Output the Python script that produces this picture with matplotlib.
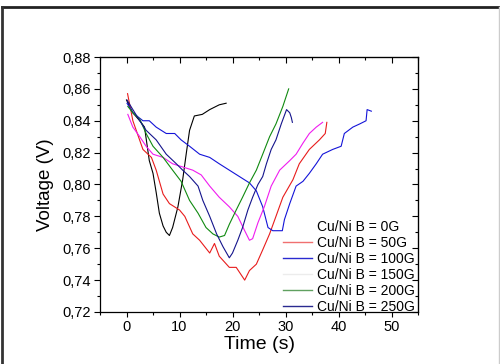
import matplotlib
matplotlib.use("Agg")
import matplotlib.pyplot as plt
from matplotlib.ticker import MultipleLocator, FuncFormatter
from matplotlib.lines import Line2D

plt.rcParams['font.family'] = ['Liberation Sans', 'DejaVu Sans']

# (time in s, voltage in V)
t_0g = [0.0, 1.2, 2.5, 3.4, 4.3, 5.0, 5.6, 6.2, 6.9, 7.5, 8.1, 8.7, 9.7, 10.6, 11.3, 11.9, 12.8, 14.3, 15.7, 17.5, 18.8]
v_0g = [0.853, 0.845, 0.840, 0.836, 0.815, 0.807, 0.795, 0.782, 0.774, 0.770, 0.768, 0.773, 0.786, 0.803, 0.820, 0.834,
        0.843, 0.844, 0.847, 0.850, 0.851]

t_50g = [0.2, 1.2, 3.1, 4.7, 5.6, 6.9, 8.1, 10.0, 11.0, 12.5, 13.8, 15.7, 16.6, 17.5, 19.4, 20.7, 22.3, 23.2, 24.5, 25.7,
         27.0, 28.2, 29.5, 31.4, 32.6, 34.5, 36.4, 37.5, 37.8]
v_50g = [0.857, 0.840, 0.822, 0.817, 0.809, 0.794, 0.788, 0.784, 0.780, 0.769, 0.765, 0.757, 0.763, 0.755, 0.748, 0.748,
         0.740, 0.746, 0.750, 0.759, 0.769, 0.780, 0.792, 0.803, 0.813, 0.822, 0.828, 0.832, 0.839]

t_100g = [0.1, 1.2, 3.1, 4.3, 5.6, 7.5, 9.1, 10.3, 11.9, 13.8, 15.7, 17.5, 19.4, 21.3, 23.2, 24.5, 25.7, 26.7, 27.6, 29.4,
          29.8, 30.8, 32.0, 33.3, 34.5, 35.8, 37.0, 38.9, 40.5, 41.1, 42.7, 44.0, 45.2, 45.4, 46.2]
v_100g = [0.851, 0.845, 0.840, 0.840, 0.836, 0.832, 0.832, 0.828, 0.824, 0.819, 0.817, 0.813, 0.809, 0.805, 0.801, 0.796,
          0.786, 0.773, 0.771, 0.771, 0.778, 0.788, 0.799, 0.802, 0.807, 0.813, 0.819, 0.822, 0.824, 0.832, 0.836, 0.838,
          0.840, 0.847, 0.846]

t_150g = [0.25, 1.2, 2.5, 3.7, 5.0, 6.9, 8.7, 10.6, 12.5, 14.1, 15.7, 17.5, 19.4, 21.0, 22.3, 23.2, 23.8, 24.8, 26.0, 27.3,
          28.9, 30.8, 32.0, 33.3, 34.5, 35.8, 37.0]
v_150g = [0.844, 0.836, 0.830, 0.824, 0.819, 0.817, 0.813, 0.811, 0.809, 0.806, 0.799, 0.792, 0.786, 0.780, 0.771, 0.765,
          0.766, 0.776, 0.786, 0.799, 0.809, 0.815, 0.819, 0.826, 0.832, 0.836, 0.839]

t_200g = [0.25, 1.2, 2.5, 3.7, 5.0, 6.9, 8.7, 10.3, 11.9, 13.5, 15.0, 16.3, 17.5, 18.5, 19.4, 20.7, 21.9, 23.2, 24.5, 25.7,
          27.0, 28.2, 29.5, 30.3, 30.6]
v_200g = [0.849, 0.845, 0.841, 0.832, 0.824, 0.817, 0.809, 0.802, 0.790, 0.782, 0.773, 0.769, 0.767, 0.768, 0.775, 0.784,
          0.792, 0.801, 0.809, 0.819, 0.830, 0.838, 0.849, 0.857, 0.860]

t_250g = [0.1, 1.2, 2.5, 3.7, 5.6, 7.5, 9.4, 10.6, 11.9, 13.5, 14.4, 15.7, 17.0, 18.2, 19.4, 20.0, 21.0, 21.9, 22.9, 23.8,
          24.8, 25.7, 26.4, 27.3, 28.2, 29.2, 30.2, 30.8, 31.1, 31.3]
v_250g = [0.853, 0.847, 0.840, 0.834, 0.828, 0.819, 0.813, 0.809, 0.805, 0.799, 0.790, 0.780, 0.769, 0.761, 0.754, 0.757,
          0.765, 0.773, 0.784, 0.792, 0.800, 0.805, 0.813, 0.822, 0.828, 0.838, 0.847, 0.845, 0.842, 0.839]

labels = ['Cu/Ni B = 0G', 'Cu/Ni B = 50G', 'Cu/Ni B = 100G', 'Cu/Ni B = 150G', 'Cu/Ni B = 200G', 'Cu/Ni B = 250G']
series = [(t_0g, v_0g), (t_50g, v_50g), (t_100g, v_100g), (t_150g, v_150g), (t_200g, v_200g), (t_250g, v_250g)]
colors = ['black', '#e81c1c', '#1414d8', '#f01cf0', '#108a10', '#14148c']
# the legend swatches in the original do not match the curves
legend_colors = ['none', '#f07070', '#2a2ad0', '#ececec', '#60a060', '#2a2a90']

fig = plt.figure(figsize=(5, 3.64), dpi=100)
ax = fig.add_axes([0.2, 0.1429, 0.636, 0.7005])

for (t, v), c, lab in zip(series, colors, labels):
    ax.plot(t, v, color=c, lw=0.8, label=lab)

ax.set_xlim(-5, 55)
ax.set_ylim(0.72, 0.88)
ax.xaxis.set_major_locator(MultipleLocator(10))
ax.xaxis.set_minor_locator(MultipleLocator(5))
ax.yaxis.set_major_locator(MultipleLocator(0.02))
ax.yaxis.set_minor_locator(MultipleLocator(0.01))
ax.yaxis.set_major_formatter(FuncFormatter(lambda y, p: f"{y:.2f}".replace('.', ',')))
ax.tick_params(which='both', direction='out', top=False, right=False, labelsize=10.5, width=0.8, pad=2)
ax.tick_params(axis='y', which='major', length=4.5)
ax.tick_params(axis='x', which='major', length=3.5)
ax.tick_params(which='minor', length=2)
for s in ax.spines.values():
    s.set_linewidth(0.9)

# top and right ticks point inwards, without labels
top = ax.secondary_xaxis('top')
top.xaxis.set_major_locator(MultipleLocator(10))
top.xaxis.set_minor_locator(MultipleLocator(5))
top.tick_params(which='both', direction='in', labeltop=False, width=0.8)
top.tick_params(which='major', length=4)
top.tick_params(which='minor', length=2)
right = ax.secondary_yaxis('right')
right.yaxis.set_major_locator(MultipleLocator(0.02))
right.yaxis.set_minor_locator(MultipleLocator(0.01))
right.tick_params(which='both', direction='in', labelright=False, width=0.8)
right.tick_params(which='major', length=4)
right.tick_params(which='minor', length=2)

ax.set_xlabel('Time (s)', fontsize=14, labelpad=2)
ax.set_ylabel('Voltage (V)', fontsize=13.5, labelpad=6)

leg = ax.legend(loc='lower right', bbox_to_anchor=(1.008, -0.03), frameon=False, fontsize=10,
                handlelength=2.1, handletextpad=0.35, labelspacing=0.15, borderaxespad=0)
for h, c in zip(leg.legend_handles, legend_colors):
    h.set_color(c)
    h.set_linewidth(1.0)

# frame around the whole picture
fig.add_artist(Line2D([0.004, 0.998], [0.981, 0.981], color='#222222', lw=2))
fig.add_artist(Line2D([0.004, 0.004], [0.0, 0.981], color='#333333', lw=2))
fig.add_artist(Line2D([0.998, 0.998], [0.0, 0.981], color='#cccccc', lw=1))

fig.savefig('out.png', dpi=100)
